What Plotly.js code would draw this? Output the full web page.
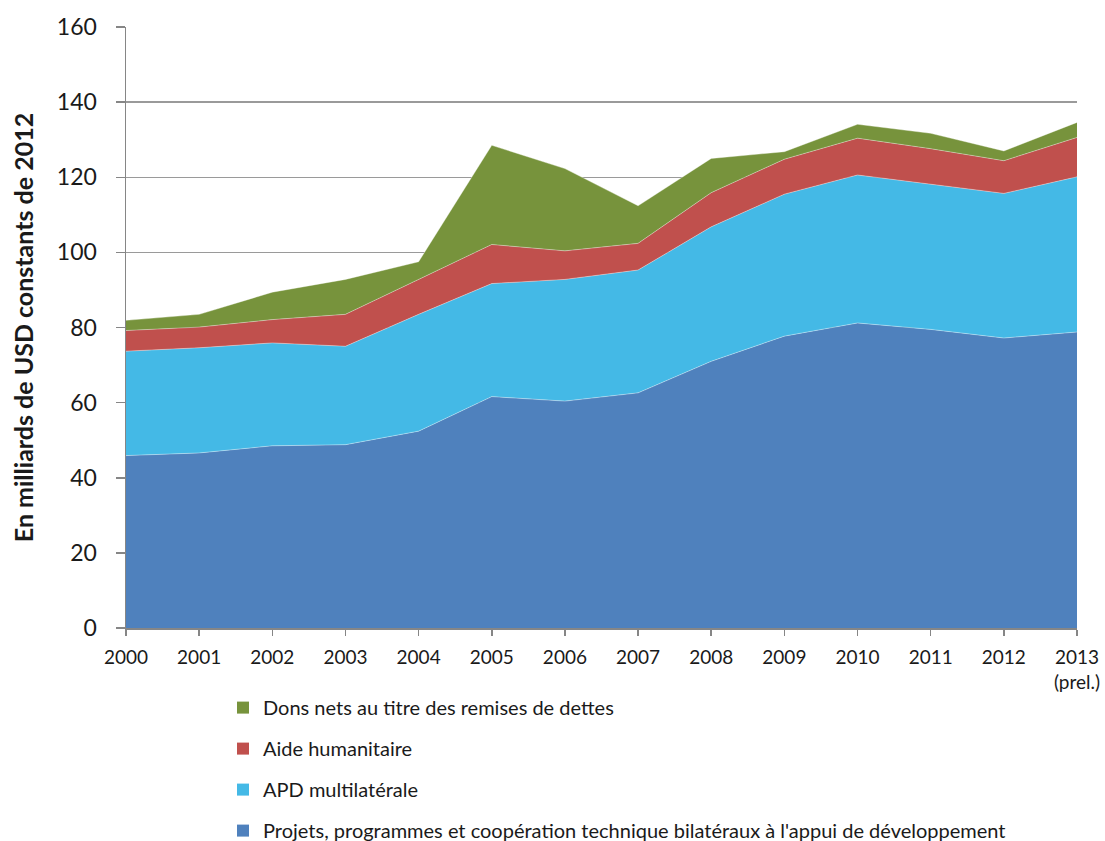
<!DOCTYPE html>
<html>
<head>
<meta charset="utf-8">
<script src="https://cdn.plot.ly/plotly-3.0.1.min.js"></script>
<style>html,body{margin:0;padding:0;background:#fff;}#chart{width:1105px;height:841px;}</style>
</head>
<body>
<div id="chart"></div>
<script>
const years = [2000,2001,2002,2003,2004,2005,2006,2007,2008,2009,2010,2011,2012,2013];
const tickLabels = ["2000","2001","2002","2003","2004","2005","2006","2007","2008","2009","2010","2011","2012","2013<br>(prel.)"];
const bilateral = [45.9,46.6,48.5,48.8,52.4,61.6,60.4,62.6,71.0,77.7,81.2,79.5,77.2,78.8];
const multilateral = [27.8,28.0,27.4,26.2,31.1,30.1,32.4,32.7,35.8,37.8,39.4,38.6,38.5,41.3];
const humanitarian = [5.5,5.5,6.2,8.5,9.3,10.4,7.6,7.1,9.1,9.3,9.8,9.5,8.7,10.5];
const debtRelief = [2.7,3.4,7.3,9.3,4.7,26.4,21.9,10.0,9.1,2.0,3.7,4.1,2.6,4.0];

const names = [
  "Projets, programmes et coopération technique bilatéraux à l'appui de développement",
  "APD multilatérale",
  "Aide humanitaire",
  "Dons nets au titre des remises de dettes"
];
const series = [bilateral, multilateral, humanitarian, debtRelief];
const colors = ["#4F81BD", "#44B9E6", "#C0504D", "#77933C"];

const traces = [];
series.forEach((s, i) => {
  traces.push({
    type: "scatter", mode: "lines", x: years, y: s, stackgroup: "one",
    fillcolor: colors[i], line: {color: "rgba(255,255,255,0.45)", width: 0.8},
    name: names[i], showlegend: false, hoverinfo: "x+y+name"
  });
});
series.forEach((s, i) => {
  traces.push({
    type: "bar", x: [years[0]], y: [null], name: names[i],
    marker: {color: colors[i]}, legendgroup: "g" + i, legendrank: 10 - i,
    showlegend: true, hoverinfo: "skip"
  });
});

const layout = {
  width: 1105, height: 841,
  margin: {l: 126, r: 28, t: 27, b: 213, autoexpand: false},
  paper_bgcolor: "#fff", plot_bgcolor: "#fff",
  font: {family: "Lato, 'Open Sans', sans-serif", color: "#1a1a1a"},
  showlegend: true,
  legend: {
    x: 0.102, xanchor: "left", y: -0.100, yanchor: "top",
    traceorder: "grouped", tracegroupgap: 12,
    font: {size: 20, color: "#1a1a1a"}, itemwidth: 30, bgcolor: "rgba(0,0,0,0)"
  },
  xaxis: {
    range: [2000, 2013], tickvals: years, ticktext: tickLabels,
    showgrid: false, zeroline: false, showline: true, linecolor: "#868686", linewidth: 1.5,
    ticks: "outside", ticklen: 6, tickcolor: "#868686", tickwidth: 1.5,
    ticklabelstandoff: 6,
    tickfont: {size: 19, color: "#1a1a1a"}, fixedrange: true
  },
  yaxis: {
    range: [0, 160], tickvals: [0,20,40,60,80,100,120,140,160],
    showgrid: true, gridcolor: "#9a9a9a", gridwidth: 1.5, zeroline: false,
    showline: true, linecolor: "#868686", linewidth: 1.5,
    ticks: "outside", ticklen: 9, tickcolor: "#868686", tickwidth: 1.5,
    ticklabelstandoff: 14,
    tickfont: {size: 23, color: "#1a1a1a"},
    title: {text: "<b>En milliards de USD constants de 2012</b>", font: {size: 25, color: "#1a1a1a"}, standoff: 16},
    fixedrange: true
  },
  barmode: "overlay"
};

Plotly.newPlot("chart", traces, layout, {displayModeBar: false, staticPlot: true});
</script>
</body>
</html>
